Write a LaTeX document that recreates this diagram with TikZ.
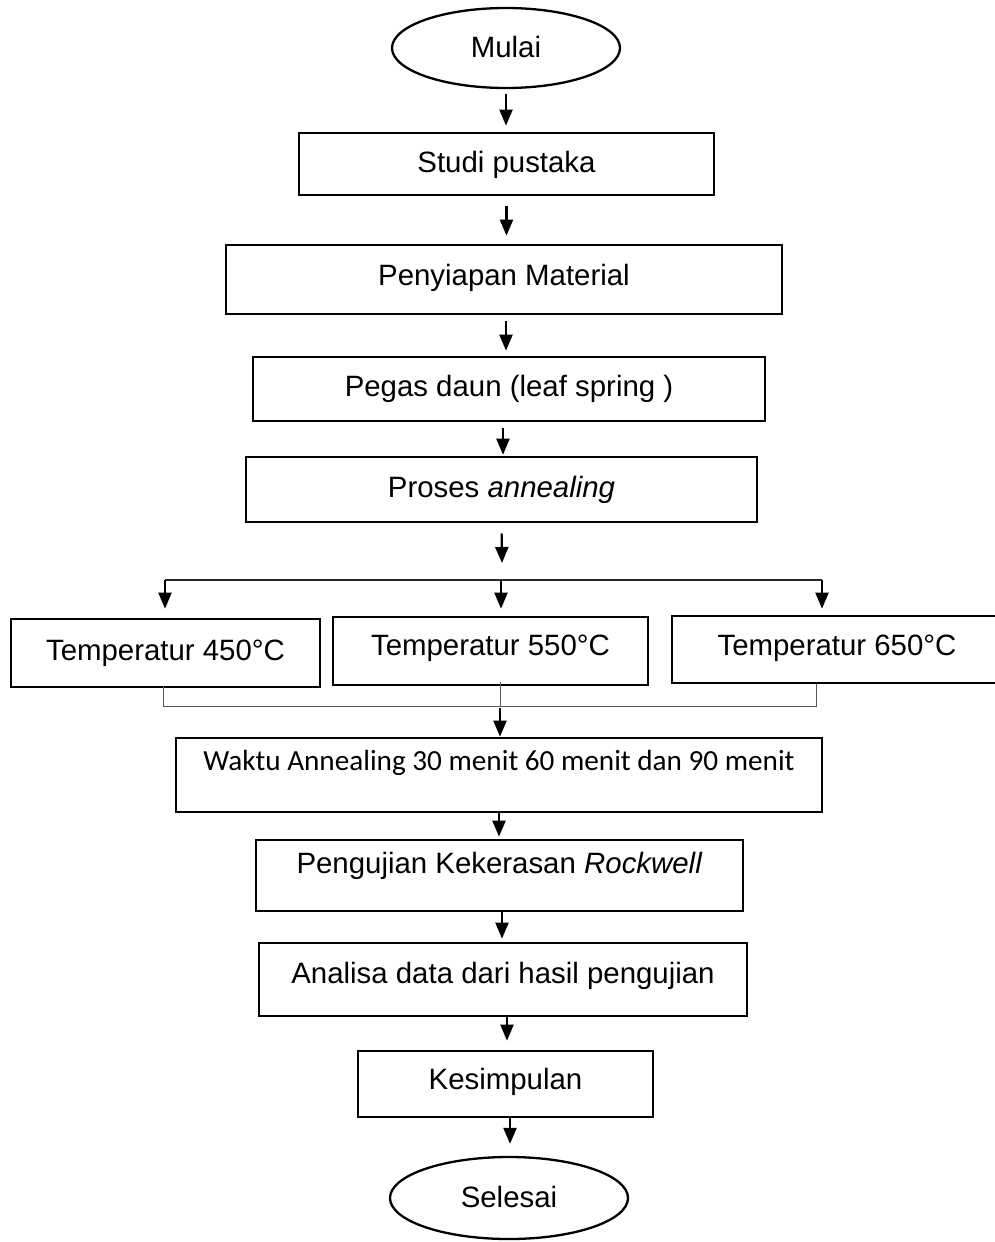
\documentclass[tikz,border=0pt]{standalone}
\usepackage{fontspec}
\setmainfont{Liberation Sans}
\newfontfamily\carlito{Carlito}
\usetikzlibrary{arrows.meta,shapes.geometric}
\begin{document}
\begin{tikzpicture}[x=1pt,y=-1pt,
  box/.style={draw,line width=2.7pt,rectangle,inner sep=0pt,
    font=\fontsize{29.4}{34}\selectfont,text height=21.2pt},
  term/.style={draw,line width=2.3pt,ellipse,inner sep=0pt,
    font=\fontsize{29.4}{34}\selectfont,text height=21.2pt,text depth=2pt},
  arr/.style={line width=2.2pt,-{Triangle[length=16pt,width=13pt]}},
  forkline/.style={line width=1.3pt,black!85},
  joinline/.style={line width=1pt,black!65}]
\useasboundingbox (0,0) rectangle (994,1242);

\node[term,minimum width=228pt,minimum height=80pt] (mulai) at (506,48) {Mulai};
\node[box,minimum width=415pt,minimum height=62pt,text depth=4pt] (studi) at (506.5,164) {Studi pustaka};
\node[box,minimum width=556pt,minimum height=69pt,text depth=10pt] (penyiapan) at (504,279.5) {Penyiapan Material};
\node[box,minimum width=512pt,minimum height=64pt,text depth=6pt] (pegas) at (509,389) {Pegas daun (leaf spring )};
\node[box,minimum width=511pt,minimum height=65pt,text depth=6pt] (proses) at (501.5,489.5) {Proses \textit{annealing}};

\node[box,minimum width=309pt,minimum height=68pt,text depth=7pt] (t450) at (165.5,653) {Temperatur 450°C};
\node[box,minimum width=315pt,minimum height=68pt,text depth=12pt] (t550) at (490.5,651) {Temperatur 550°C};
\node[box,minimum width=330pt,minimum height=67pt,text depth=9pt] (t650) at (837,649.5) {Temperatur 650°C};

\node[box,minimum width=646pt,minimum height=74pt,font=\carlito\fontsize{29.2}{34}\selectfont,text height=19pt,text depth=28pt] (waktu) at (499,775) {Waktu Annealing 30 menit 60 menit dan 90 menit};
\node[box,minimum width=487pt,minimum height=71pt,text depth=25pt] (uji) at (499.5,875.5) {Pengujian Kekerasan \textit{Rockwell}};
\node[box,minimum width=488pt,minimum height=73pt,text depth=14pt] (analisa) at (503,979.5) {Analisa data dari hasil pengujian};
\node[box,minimum width=295pt,minimum height=66pt,text depth=10pt] (kesimpulan) at (505.5,1084) {Kesimpulan};
\node[term,minimum width=238pt,minimum height=82pt] (selesai) at (509,1198) {Selesai};

% main chain
\draw[arr,shorten <=5pt,shorten >=6pt] (mulai.south) -- (mulai.south |- studi.north);
\draw[arr,shorten <=10pt,shorten >=8pt] (studi.south) -- (studi.south |- penyiapan.north);
\draw[arr,shorten <=6pt,shorten >=5pt] ([xshift=2pt]penyiapan.south) -- ([xshift=2pt]penyiapan.south |- pegas.north);
\draw[arr,shorten <=6pt,shorten >=1pt] ([xshift=-6pt]pegas.south) -- ([xshift=-6pt]pegas.south |- proses.north);

\coordinate (fork) at (502,563);
\draw[arr,shorten <=10pt] (proses.south) -- (fork);

% fork
\coordinate (fl) at (165,580);
\coordinate (fm) at (501,580);
\coordinate (fr) at (822,580);
\draw[forkline] (fl) -- (fr);
\draw[arr,shorten >=9pt] (fl) -- (fl |- t450.north);
\draw[arr,shorten >=7pt] (fm) -- (fm |- t550.north);
\draw[arr,shorten >=6pt] (fr) -- (fr |- t650.north);

% join
\coordinate (jl) at (163,706);
\coordinate (jm) at (500,706);
\coordinate (jr) at (816,706);
\draw[joinline] ([yshift=2pt]jl |- t450.south) -- (jl) -- (jr) -- (jr |- t650.south);
\draw[joinline] ([yshift=4pt]jm |- t550.south) -- (jm);
\draw[arr,shorten <=2pt] (jm) -- (jm |- waktu.north);

\draw[arr,shorten >=2pt] (waktu.south) -- (waktu.south |- uji.north);
\draw[arr,shorten >=3pt] ([xshift=2.5pt]uji.south) -- ([xshift=2.5pt]uji.south |- analisa.north);
\draw[arr,shorten >=9pt] ([xshift=4pt]analisa.south) -- ([xshift=4pt]analisa.south |- kesimpulan.north);
\draw[arr,shorten >=12pt] ([xshift=4.5pt]kesimpulan.south) -- ([xshift=4.5pt]kesimpulan.south |- selesai.north);
\end{tikzpicture}
\end{document}
